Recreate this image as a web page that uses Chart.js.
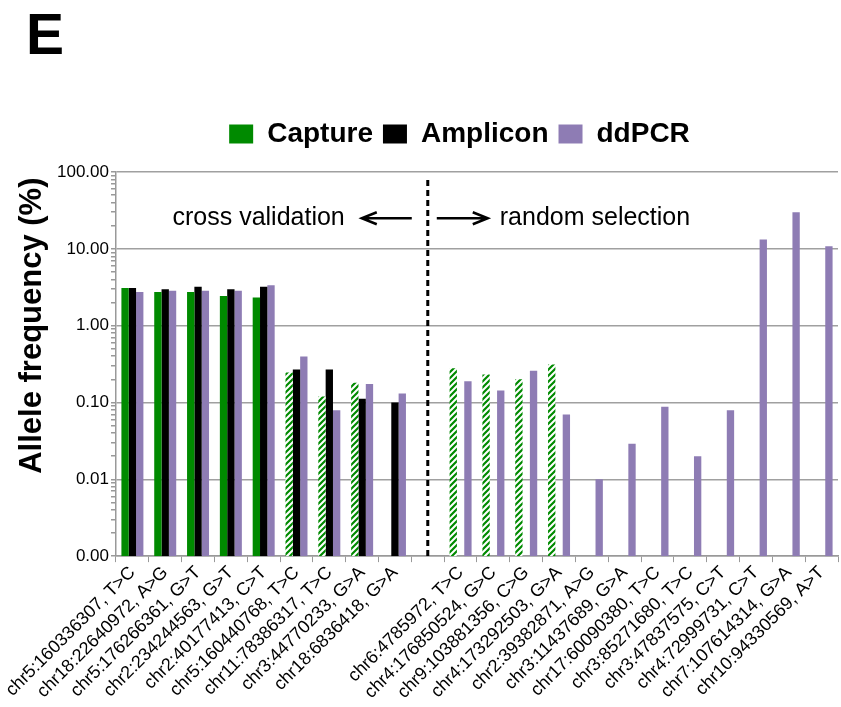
<!DOCTYPE html>
<html>
<head>
<meta charset="utf-8">
<script src="https://cdn.jsdelivr.net/npm/chart.js@4/dist/chart.umd.min.js"></script>
<style>
  html, body { margin: 0; padding: 0; background: #fff; }
</style>
</head>
<body>
<canvas id="myChart" width="841" height="707"></canvas>
<script>
// categories (index 9 is the empty slot where the dashed divider sits)
var labels = [
    'chr5:160336307, T>C', 'chr18:22640972, A>G', 'chr5:176266361, G>T',
    'chr2:234244563, G>T', 'chr2:40177413, C>T', 'chr5:160440768, T>C',
    'chr11:78386317, T>C', 'chr3:44770233, G>A', 'chr18:6836418, G>A',
    '',
    'chr6:4785972, T>C', 'chr4:176850524, G>C', 'chr9:103881356, C>G',
    'chr4:173292503, G>A', 'chr2:39382871, A>G', 'chr3:11437689, G>A',
    'chr17:60090380, T>C', 'chr3:85271680, T>C', 'chr3:47837575, C>T',
    'chr4:72999731, C>T', 'chr7:107614314, G>A', 'chr10:94330569, A>T'
];

var capture  = [3.09, 2.74, 2.74, 2.43, 2.33, 0.245, 0.120, 0.181, null, null,
                0.279, 0.231, 0.200, 0.311, null, null, null, null, null, null, null, null];
var amplicon = [3.09, 2.97, 3.22, 2.97, 3.22, 0.268, 0.268, 0.112, 0.100, null,
                null, null, null, null, null, null, null, null, null, null, null, null];
var ddpcr    = [2.74, 2.85, 2.85, 2.85, 3.35, 0.396, 0.079, 0.174, 0.131, null,
                0.189, 0.143, 0.258, 0.070, 0.010, 0.029, 0.088, 0.020, 0.079, 13.2, 30.0, 10.8];

// capture bars drawn hatched
var captureHatched = [false, false, false, false, false, true, true, true, false, false,
                      true, true, true, true, false, false, false, false, false, false, false, false];

var yMajorTicks = [0.001, 0.01, 0.1, 1, 10, 100];

var green = 'rgb(0, 138, 0)';
var purple = 'rgb(142, 124, 180)';
var fontFamily = '"Liberation Sans", Arial, Helvetica, sans-serif';

// diagonal stripe pattern for the hatched bars
function makeHatch() {
    var c = document.createElement('canvas');
    c.width = 6; c.height = 6;
    var g = c.getContext('2d');
    g.fillStyle = '#fff';
    g.fillRect(0, 0, 6, 6);
    g.strokeStyle = green;
    g.lineWidth = 2.2;
    g.beginPath();
    g.moveTo(-1, 7); g.lineTo(7, -1);
    g.moveTo(-4, 4); g.lineTo(4, -4);
    g.moveTo(2, 10); g.lineTo(10, 2);
    g.stroke();
    return g.createPattern(c, 'repeat');
}

var ctx = document.getElementById('myChart').getContext('2d');
var hatch = makeHatch();

function isMajor(v) {
    var l = Math.log10(v);
    return Math.abs(l - Math.round(l)) < 1e-9;
}

function drawArrow(c, x1, x2, y) {
    var dir = x2 > x1 ? 1 : -1;
    c.beginPath();
    c.moveTo(x1, y);
    c.lineTo(x2, y);
    c.moveTo(x2 - dir * 15, y - 6);
    c.lineTo(x2, y);
    c.lineTo(x2 - dir * 15, y + 6);
    c.stroke();
}

// extra space under the legend, and nudge it right like the original
var legendTweak = {
    id: 'legendTweak',
    beforeInit: function(chart) {
        var fit = chart.legend.fit;
        chart.legend.fit = function() {
            fit.bind(chart.legend)();
            this.height += 14;
        };
    },
    afterLayout: function(chart) {
        chart.legend.left += 13;
        chart.legend.right += 13;
    }
};

var annotations = {
    id: 'annotations',
    afterDatasetsDraw: function(chart) {
        var c = chart.ctx;
        var x = chart.scales.x;
        var y = chart.scales.y;
        var area = chart.chartArea;
        var L = x.getPixelForValue(9);
        c.save();
        // dashed divider
        c.strokeStyle = '#000';
        c.lineWidth = 3;
        c.setLineDash([6, 4]);
        c.beginPath();
        c.moveTo(L, area.top + 8);
        c.lineTo(L, area.bottom);
        c.stroke();
        c.setLineDash([]);

        var ty = y.getPixelForValue(25);
        c.fillStyle = '#000';
        c.font = '25px ' + fontFamily;
        c.textBaseline = 'middle';
        c.textAlign = 'right';
        c.fillText('cross validation', L - 83, ty);
        c.textAlign = 'left';
        c.fillText('random selection', L + 72, ty);
        c.lineWidth = 2.5;
        drawArrow(c, L - 16, L - 66, ty);
        drawArrow(c, L + 9, L + 60, ty);

        // y axis title (sits above the axis middle in the original)
        c.save();
        c.translate(32, y.getPixelForValue(1));
        c.rotate(-Math.PI / 2);
        c.textAlign = 'center';
        c.font = 'bold 31px ' + fontFamily;
        c.fillText('Allele frequency (%)', 0, 0);
        c.restore();

        // panel letter
        c.font = 'bold 57px ' + fontFamily;
        c.textAlign = 'left';
        c.textBaseline = 'alphabetic';
        c.fillText('E', 26, 54);
        c.restore();
    }
};

var chart = new Chart(ctx, {
    type: 'bar',
    data: {
        labels: labels,
        datasets: [{
            label: 'Capture',
            data: capture,
            backgroundColor: function(c) {
                return captureHatched[c.dataIndex] ? hatch : green;
            }
        }, {
            label: 'Amplicon',
            data: amplicon,
            backgroundColor: '#000'
        }, {
            label: 'ddPCR',
            data: ddpcr,
            backgroundColor: purple
        }]
    },
    options: {
        responsive: false,
        animation: false,
        categoryPercentage: 0.67,
        barPercentage: 1.0,
        layout: { padding: { top: 110, left: 55, right: 3, bottom: 4 } },
        plugins: {
            tooltip: { enabled: false },
            legend: {
                position: 'top',
                labels: {
                    boxWidth: 24,
                    boxHeight: 19,
                    padding: 10,
                    color: '#000',
                    font: { family: fontFamily, size: 28, weight: 'bold' },
                    generateLabels: function(chart) {
                        var fills = [green, '#000', purple];
                        return chart.data.datasets.map(function(ds, i) {
                            return { text: ds.label, fillStyle: fills[i], strokeStyle: fills[i],
                                     lineWidth: 0, datasetIndex: i, fontColor: '#000' };
                        });
                    }
                }
            }
        },
        scales: {
            x: {
                grid: { offset: true, drawOnChartArea: false, drawTicks: true, tickLength: 6, color: '#999' },
                border: { color: '#999', width: 1.5 },
                ticks: {
                    autoSkip: false,
                    minRotation: 45,
                    maxRotation: 45,
                    color: '#000',
                    padding: 0,
                    font: { family: fontFamily, size: 18 }
                }
            },
            y: {
                type: 'logarithmic',
                min: 0.001,
                max: 100,
                afterBuildTicks: function(axis) {
                    var t = [];
                    for (var n = -3; n <= 1; n++) {
                        for (var k = 1; k <= 9; k++) t.push({ value: k * Math.pow(10, n) });
                    }
                    t.push({ value: 100 });
                    axis.ticks = t;
                },
                grid: {
                    color: function(c) {
                        return c.tick && isMajor(c.tick.value) ? '#a0a0a0' : 'rgba(0,0,0,0)';
                    },
                    lineWidth: 1.5,
                    tickColor: '#999',
                    tickLength: 5
                },
                border: { color: '#999', width: 1.5 },
                ticks: {
                    autoSkip: false,
                    color: '#000',
                    padding: 2,
                    font: { family: fontFamily, size: 17 },
                    callback: function(v) {
                        return isMajor(v) ? Number(v).toFixed(2) : '';
                    }
                }
            }
        }
    },
    plugins: [legendTweak, annotations]
});
</script>
</body>
</html>
